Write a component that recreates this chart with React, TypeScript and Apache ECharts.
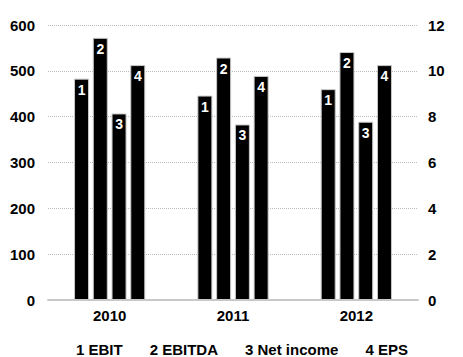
import React, { useEffect, useRef } from "react";
import * as echarts from "echarts";

const categories = ["2010", "2011", "2012"];
const ebit = [483, 446, 460];
const ebitda = [572, 529, 541];
const netIncome = [407, 383, 389];
const eps = [10.25, 9.78, 10.25];
const leftTicks = [0, 100, 200, 300, 400, 500, 600];
const rightTicks = [0, 2, 4, 6, 8, 10, 12];
const seriesNames = ["EBIT", "EBITDA", "Net income", "EPS"];
const seriesNumbers = ["1", "2", "3", "4"];

const FONT = "'Liberation Sans', Arial, sans-serif";

export default function App() {
  const ref = useRef<HTMLDivElement>(null);
  useEffect(() => {
    if (!ref.current) return;
    const chart = echarts.init(ref.current, undefined, { renderer: "svg" });
    const datasets = [ebit, ebitda, netIncome, eps];
    const series = datasets.map((d, i) => ({
      name: seriesNames[i],
      type: "bar",
      yAxisIndex: i === 3 ? 1 : 0,
      data: d,
      barWidth: 15,
      barGap: "25%",
      itemStyle: { color: "#000", borderColor: "#c8c8c8", borderWidth: 1 },
      label: {
        show: true,
        position: "insideTop",
        distance: 4,
        formatter: () => seriesNumbers[i],
        color: "#fff",
        fontWeight: "bold",
        fontSize: 14,
        fontFamily: FONT,
      },
    }));
    chart.setOption({
      animation: false,
      grid: { left: 48, right: 45, top: 25, bottom: 57, containLabel: false },
      legend: {
        bottom: 0,
        left: 70,
        padding: 0,
        itemWidth: 0,
        itemHeight: 0,
        itemGap: 21,
        data: seriesNames,
        formatter: (name: string) => seriesNumbers[seriesNames.indexOf(name)] + " " + name,
        textStyle: { fontFamily: FONT, fontWeight: "bold", fontSize: 15, color: "#000" },
      },
      xAxis: {
        type: "category",
        data: categories,
        axisTick: { show: false },
        axisLine: { show: true, lineStyle: { color: "#c8c8c8", width: 2 } },
        axisLabel: { color: "#000", fontWeight: "bold", fontSize: 15, fontFamily: FONT, margin: 8 },
      },
      yAxis: [
        {
          type: "value",
          min: leftTicks[0],
          max: leftTicks[leftTicks.length - 1],
          interval: 100,
          axisLine: { show: false },
          axisTick: { show: false },
          splitLine: { lineStyle: { type: "dotted", color: "#bbbbbb", width: 1 } },
          axisLabel: { color: "#000", fontWeight: "bold", fontSize: 15, fontFamily: FONT, margin: 13 },
        },
        {
          type: "value",
          min: rightTicks[0],
          max: rightTicks[rightTicks.length - 1],
          interval: 2,
          axisLine: { show: false },
          axisTick: { show: false },
          splitLine: { show: false },
          axisLabel: { color: "#000", fontWeight: "bold", fontSize: 15, fontFamily: FONT, margin: 10 },
        },
      ],
      series,
    });
    return () => chart.dispose();
  }, []);
  return (
    <div
      ref={ref}
      style={{ position: "fixed", left: 0, top: 0, width: 463, height: 357, background: "#fff" }}
    />
  );
}
